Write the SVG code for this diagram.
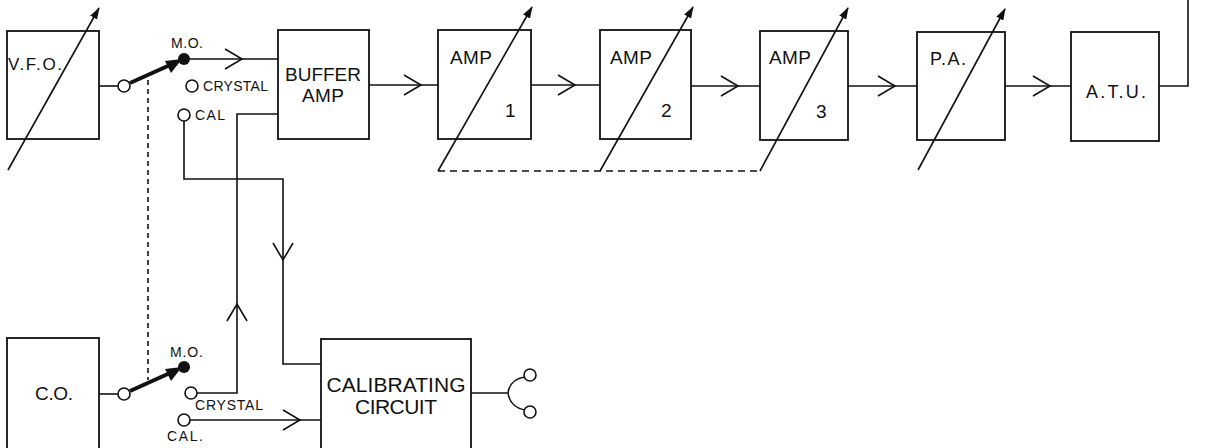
<svg xmlns="http://www.w3.org/2000/svg" width="1207" height="448" viewBox="0 0 1207 448">
<style>
.box{fill:none;stroke:#111;stroke-width:1.8}
.ln{fill:none;stroke:#111;stroke-width:1.6}
.dash{fill:none;stroke:#111;stroke-width:1.6;stroke-dasharray:7 5}
.vd{fill:none;stroke:#111;stroke-width:1.6;stroke-dasharray:5 4}
.t{font-family:"Liberation Sans",Arial,sans-serif;fill:#111}
.oc{fill:#fff;stroke:#111;stroke-width:1.6}
.dot{fill:#111}
</style>
<defs>
<marker id="ah" viewBox="0 0 12 8" refX="11" refY="4" markerWidth="12" markerHeight="8" markerUnits="userSpaceOnUse" orient="auto">
<path d="M0,0 L12,4 L0,8 Z" fill="#111"/>
</marker>
<path id="chev" d="M-17,-10 L0,0 L-17,10" fill="none" stroke="#111" stroke-width="1.6"/>
</defs>
<rect width="1207" height="448" fill="#fff"/>

<g id="vfo">
<rect class="box" x="7" y="31" width="92" height="108"/>
<text class="t" x="8" y="70" font-size="17" textLength="54" lengthAdjust="spacing">V.F.O.</text>
<line class="ln" x1="8" y1="170" x2="99" y2="8" marker-end="url(#ah)"/>
</g>

<g id="switch-top">
<circle class="oc" cx="124" cy="86" r="6"/>
<line x1="130" y1="83" x2="170" y2="65" stroke="#111" stroke-width="4"/>
<path d="M165,61 L182,59 L171,73 Z" fill="#111"/>
<circle class="dot" cx="184" cy="59" r="6"/>
<text class="t" x="171" y="48" font-size="14" textLength="32" lengthAdjust="spacing">M.O.</text>
<circle class="oc" cx="192" cy="86" r="6"/>
<text class="t" x="203" y="91" font-size="14" textLength="65" lengthAdjust="spacing">CRYSTAL</text>
<circle class="oc" cx="184" cy="115" r="6"/>
<text class="t" x="195" y="120" font-size="14" textLength="30" lengthAdjust="spacing">CAL</text>
</g>

<g id="buffer">
<rect class="box" x="278" y="30" width="91" height="109"/>
<text class="t" x="323" y="81" font-size="19" text-anchor="middle" textLength="76" lengthAdjust="spacing">BUFFER</text>
<text class="t" x="323" y="102" font-size="19" text-anchor="middle" textLength="42" lengthAdjust="spacing">AMP</text>
</g>

<g id="amp1">
<rect class="box" x="438" y="30" width="93" height="109"/>
<text class="t" x="450" y="64" font-size="19" textLength="42" lengthAdjust="spacing">AMP</text>
<text class="t" x="505" y="117" font-size="19">1</text>
<line class="ln" x1="438" y1="171" x2="532" y2="7" marker-end="url(#ah)"/>
</g>

<g id="amp2">
<rect class="box" x="600" y="30" width="91" height="109"/>
<text class="t" x="610" y="64" font-size="19" textLength="42" lengthAdjust="spacing">AMP</text>
<text class="t" x="661" y="117" font-size="19">2</text>
<line class="ln" x1="600" y1="171" x2="693" y2="7" marker-end="url(#ah)"/>
</g>

<g id="amp3">
<rect class="box" x="760" y="31" width="88" height="109"/>
<text class="t" x="769" y="64" font-size="19" textLength="42" lengthAdjust="spacing">AMP</text>
<text class="t" x="816" y="118" font-size="19">3</text>
<line class="ln" x1="760" y1="171" x2="848" y2="8" marker-end="url(#ah)"/>
</g>

<g id="pa">
<rect class="box" x="917" y="32" width="88" height="108"/>
<text class="t" x="930" y="65" font-size="18" textLength="36" lengthAdjust="spacing">P.A.</text>
<line class="ln" x1="918" y1="170" x2="1005" y2="9" marker-end="url(#ah)"/>
</g>

<g id="atu">
<rect class="box" x="1071" y="32" width="88" height="109"/>
<text class="t" x="1116" y="98" font-size="18" text-anchor="middle" textLength="60" lengthAdjust="spacing">A.T.U.</text>
</g>

<g id="co">
<rect class="box" x="7" y="338" width="92" height="120"/>
<text class="t" x="54" y="400" font-size="19" text-anchor="middle" textLength="38" lengthAdjust="spacing">C.O.</text>
</g>

<g id="switch-bottom">
<circle class="oc" cx="124" cy="394" r="6"/>
<line x1="130" y1="391" x2="170" y2="373" stroke="#111" stroke-width="4"/>
<path d="M165,369 L182,367 L171,381 Z" fill="#111"/>
<circle class="dot" cx="184" cy="367" r="6"/>
<text class="t" x="170" y="357" font-size="14" textLength="33" lengthAdjust="spacing">M.O.</text>
<circle class="oc" cx="191" cy="393" r="6"/>
<text class="t" x="195" y="410" font-size="14" textLength="68" lengthAdjust="spacing">CRYSTAL</text>
<circle class="oc" cx="184" cy="420" r="6"/>
<text class="t" x="167" y="441" font-size="14" textLength="36" lengthAdjust="spacing">CAL.</text>
</g>

<g id="calibrating">
<rect class="box" x="321" y="339" width="150" height="120"/>
<text class="t" x="396" y="392" font-size="21" text-anchor="middle" textLength="139" lengthAdjust="spacing">CALIBRATING</text>
<text class="t" x="396" y="414" font-size="21" text-anchor="middle" textLength="82" lengthAdjust="spacing">CIRCUIT</text>
<path class="ln" d="M471,393 H508 M508,393 Q510,379 525,377 M508,393 Q510,407 525,410"/>
<circle class="oc" cx="530" cy="375" r="6"/>
<circle class="oc" cx="530" cy="412" r="6"/>
</g>

<g id="connectors">
<line class="ln" x1="99" y1="86" x2="118" y2="86"/>
<line class="ln" x1="99" y1="394" x2="118" y2="394"/>
<line class="vd" x1="148" y1="80" x2="148" y2="380"/>
<line class="ln" x1="190" y1="59" x2="278" y2="59"/>
<use href="#chev" x="242" y="59"/>
<path class="ln" d="M278,114 H237 V393 H197"/>
<use href="#chev" transform="translate(237,304) rotate(-90)"/>
<path class="ln" d="M184,121 V179 H283 V364 H321"/>
<use href="#chev" transform="translate(283,260) rotate(90)"/>
<line class="ln" x1="190" y1="420" x2="321" y2="420"/>
<use href="#chev" x="300" y="420"/>
<line class="ln" x1="369" y1="85" x2="438" y2="85"/>
<use href="#chev" x="421" y="85"/>
<line class="ln" x1="531" y1="85" x2="600" y2="85"/>
<use href="#chev" x="575" y="85"/>
<line class="ln" x1="691" y1="86" x2="760" y2="86"/>
<use href="#chev" x="738" y="86"/>
<line class="ln" x1="848" y1="86" x2="917" y2="86"/>
<use href="#chev" x="895" y="86"/>
<line class="ln" x1="1005" y1="86" x2="1071" y2="86"/>
<use href="#chev" x="1050" y="86"/>
<path class="ln" d="M1159,86 H1188 V0"/>
<line class="dash" x1="438" y1="171" x2="760" y2="171"/>
</g>
</svg>
